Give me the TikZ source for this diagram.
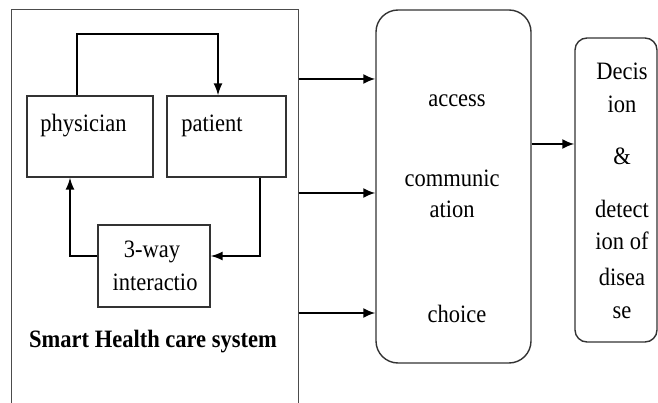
\documentclass[tikz,border=0pt]{standalone}
\usepackage{fontspec}
\setmainfont{Liberation Serif}[FakeStretch=0.9]
\usetikzlibrary{arrows.meta}
\begin{document}
\begin{tikzpicture}[x=1pt,y=-1pt,
  every node/.style={font=\fontsize{25}{28}\selectfont, inner sep=0pt},
  box/.style={draw=black!80, line width=1.4pt, minimum width=#1},
  lbl/.style={anchor=base},
  arr/.style={line width=2pt, -{Latex[length=12pt,width=10pt]}},
  larr/.style={line width=1.5pt, -{Latex[length=12pt,width=9pt]}}]
\useasboundingbox (0,0) rectangle (658,403);
\clip (0,0) rectangle (658,403);
% outer system box (bottom cropped)
\node[draw=black!70, line width=1pt, minimum width=287pt, minimum height=400pt] (sys) at (154.5,210) {};
% inner boxes
\node[box=126pt, minimum height=81pt] (phys) at (90,136.5) {};
\node[box=119pt, minimum height=81pt] (pat) at (226.5,136.5) {};
\node[box=112pt, minimum height=82pt] (way) at (154,266) {};
\node[lbl] (tphys) at (83.5,132) {physician};
\node[lbl] (tpat) at (212,132) {patient};
\node[lbl] (tway1) at (152,258) {3-way};
\node[lbl] (tway2) at (155,290) {interactio};
\node[lbl] (tsys) at (153,347) {\bfseries Smart Health care system};
% middle and right boxes
\node[box=155pt, minimum height=353pt, rounded corners=22pt] (mid) at (453.5,186.5) {};
\node[box=82pt, minimum height=304pt, rounded corners=12pt] (res) at (616,190) {};
\node[lbl] (tacc) at (457,107) {access};
\node[lbl] (tcom1) at (452,187) {communic};
\node[lbl] (tcom2) at (452,218) {ation};
\node[lbl] (tcho) at (457,322) {choice};
\node[lbl] (r1) at (622,80) {Decis};
\node[lbl] (r2) at (622,113) {ion};
\node[lbl] (r3) at (622,165) {\&};
\node[lbl] (r4) at (622,218) {detect};
\node[lbl] (r5) at (622,250) {ion of};
\node[lbl] (r6) at (622,285) {disea};
\node[lbl] (r7) at (622,318) {se};
% helper coordinates
\coordinate (c1) at (77,34);
\coordinate (c2) at (218,34);
\coordinate (c3) at (260,256);
\coordinate (c4) at (70,256);
% inner loop connectors
\draw[larr] (c1 |- phys.north) -- (c1) -- (c2) -- (c2 |- pat.north);
\draw[larr] (c3 |- pat.south) -- (c3) -- (c3 -| way.east);
\draw[larr] (c4 -| way.west) -- (c4) -- (c4 |- phys.south);
% outer connectors
\coordinate (a1) at (0,79);
\coordinate (a2) at (0,193);
\coordinate (a3) at (0,313);
\coordinate (a4) at (0,144);
\draw[arr] (sys.east |- a1) -- (mid.west |- a1);
\draw[arr] (sys.east |- a2) -- (mid.west |- a2);
\draw[arr] (sys.east |- a3) -- (mid.west |- a3);
\draw[arr] (mid.east |- a4) -- (res.west |- a4);
\end{tikzpicture}
\end{document}
